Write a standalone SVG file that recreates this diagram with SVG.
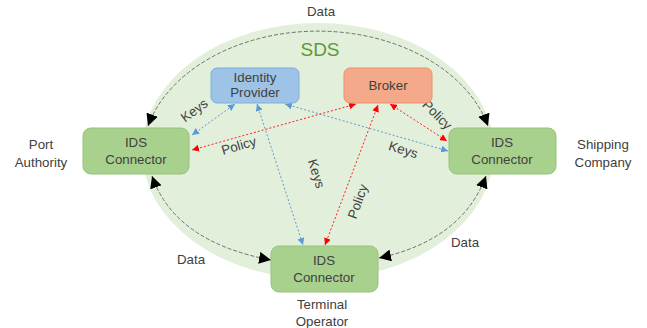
<svg xmlns="http://www.w3.org/2000/svg" width="647" height="328" viewBox="0 0 647 328">
<defs>
<style>
text{font-family:"Liberation Sans",Arial,sans-serif;fill:#404040;font-size:13.3px;text-anchor:middle}
.node{fill:#a9d18e;stroke:#96c27a;stroke-width:1}
.data{fill:none;stroke:#707070;stroke-width:1;stroke-dasharray:4 2}
.keys{fill:none;stroke:#5b9bd5;stroke-width:1;stroke-dasharray:2 2}
.pol{fill:none;stroke:#ff2020;stroke-width:1;stroke-dasharray:2 2}
</style>
<marker id="blk" viewBox="0 0 10 10" refX="10" refY="5" markerWidth="12" markerHeight="12" markerUnits="userSpaceOnUse" orient="auto-start-reverse"><path d="M0,0 L10,5 L0,10 z" fill="#000"/></marker>
<marker id="blu" viewBox="0 0 10 10" refX="10" refY="5" markerWidth="7" markerHeight="7" markerUnits="userSpaceOnUse" orient="auto-start-reverse"><path d="M0,0 L10,5 L0,10 z" fill="#5b9bd5"/></marker>
<marker id="red" viewBox="0 0 10 10" refX="10" refY="5" markerWidth="7" markerHeight="7" markerUnits="userSpaceOnUse" orient="auto-start-reverse"><path d="M0,0 L10,5 L0,10 z" fill="#ff0000"/></marker>
</defs>
<rect width="647" height="328" fill="#fff"/>
<ellipse id="sds-area" cx="318" cy="151" rx="176" ry="128" fill="#e2efda"/>
<text x="320" y="56" style="font-size:19px;fill:#5b9a3a">SDS</text>
<g id="connectors">
<path class="data" d="M 148 126 A 176 128 0 0 1 488 126" marker-start="url(#blk)" marker-end="url(#blk)"/>
<path class="data" d="M 152 176 Q 175 242 271 260" marker-start="url(#blk)" marker-end="url(#blk)"/>
<path class="data" d="M 486 176 Q 462 240 379 258" marker-start="url(#blk)" marker-end="url(#blk)"/>
<path class="keys" d="M 192 135 L 235 104" marker-start="url(#blu)" marker-end="url(#blu)"/>
<path class="keys" d="M 257 104 L 303 245" marker-start="url(#blu)" marker-end="url(#blu)"/>
<path class="keys" d="M 285 104 L 448 151" marker-start="url(#blu)" marker-end="url(#blu)"/>
<path class="pol" d="M 356 104 L 192 150" marker-start="url(#red)" marker-end="url(#red)"/>
<path class="pol" d="M 378 105 L 325 245" marker-start="url(#red)" marker-end="url(#red)"/>
<path class="pol" d="M 390 104 L 447 141" marker-start="url(#red)" marker-end="url(#red)"/>
<text x="321" y="16">Data</text>
<text x="191" y="264">Data</text>
<text x="465" y="247">Data</text>
<text transform="translate(197,114) rotate(-36)">Keys</text>
<text transform="translate(312,175) rotate(73)">Keys</text>
<text transform="translate(402,154) rotate(17)">Keys</text>
<text transform="translate(240,150) rotate(-16)">Policy</text>
<text transform="translate(362,203) rotate(-70)">Policy</text>
<text transform="translate(434,118) rotate(45)">Policy</text>
</g>
<g id="identity-provider">
<rect x="211" y="68" width="88" height="35" rx="6" fill="#9dc3e6" stroke="#7eaee0"/>
<text x="255" y="82">Identity</text>
<text x="255" y="97">Provider</text>
</g>
<g id="broker">
<rect x="344" y="68" width="88" height="35" rx="6" fill="#f4a98a" stroke="#ee8f6a"/>
<text x="388" y="90">Broker</text>
</g>
<g id="port-authority">
<rect class="node" x="83" y="128" width="106" height="46" rx="8"/>
<text x="136" y="147">IDS</text>
<text x="136" y="164">Connector</text>
<text x="41" y="149">Port</text>
<text x="41" y="167">Authority</text>
</g>
<g id="shipping-company">
<rect class="node" x="449" y="128" width="107" height="46" rx="8"/>
<text x="502" y="147">IDS</text>
<text x="502" y="164">Connector</text>
<text x="603" y="149">Shipping</text>
<text x="603" y="167">Company</text>
</g>
<g id="terminal-operator">
<rect class="node" x="271" y="246" width="107" height="46" rx="8"/>
<text x="324" y="265">IDS</text>
<text x="324" y="282">Connector</text>
<text x="322" y="309">Terminal</text>
<text x="322" y="326">Operator</text>
</g>
</svg>
